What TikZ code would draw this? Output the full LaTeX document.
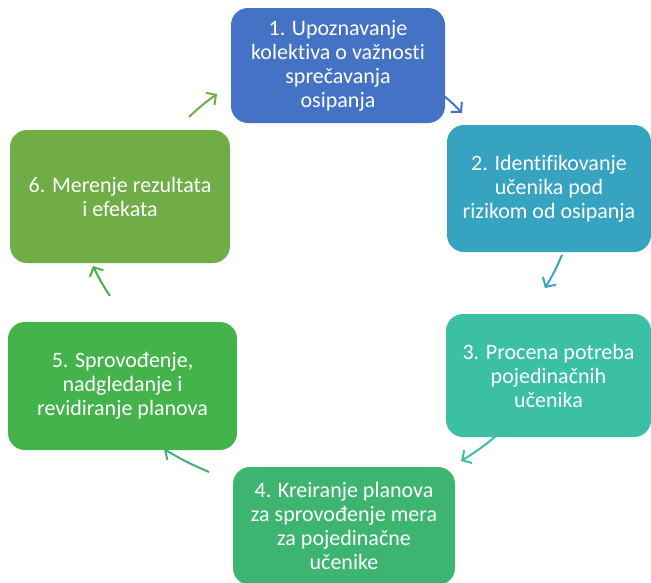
\documentclass[tikz,border=0pt]{standalone}
\usepackage{fontspec}
\setmainfont[Ligatures=NoCommon]{Carlito}
\usetikzlibrary{arrows.meta,backgrounds}
\definecolor{cA}{HTML}{4472C4}
\definecolor{cB}{HTML}{36A3C1}
\definecolor{cC}{HTML}{3BBFA5}
\definecolor{cD}{HTML}{3DB570}
\definecolor{cE}{HTML}{44B34B}
\definecolor{cF}{HTML}{70AD47}
\tikzset{
  stepbox/.style={rectangle, rounded corners=17pt, draw=none, text=white, align=center,
    font=\fontsize{22}{24}\selectfont, inner sep=0pt},
  cyc/.style={line width=2pt, -{Straight Barb[length=7pt,width=15pt,line width=2pt]}, bend left=4}
}
\begin{document}
\begin{tikzpicture}[x=1pt,y=-1pt]
\useasboundingbox (0,0) rectangle (651,582);
\node[stepbox, fill=cA, minimum width=214pt, minimum height=115pt] (b1) at (338,65.5)
  {1. Upoznavanje\\kolektiva o važnosti\\sprečavanja\\osipanja};
\node[stepbox, fill=cB, minimum width=204pt, minimum height=127pt] (b2) at (549,188.5)
  {2. Identifikovanje\\učenika pod\\rizikom od osipanja};
\node[stepbox, fill=cC, minimum width=205pt, minimum height=123pt] (b3) at (548.5,375.5)
  {3. Procena potreba\\pojedinačnih\\učenika};
\node[stepbox, fill=cD, minimum width=222pt, minimum height=118pt] (b4) at (344,526)
  {4. Kreiranje planova\\za sprovođenje mera\\za pojedinačne\\učenike};
\node[stepbox, fill=cE, minimum width=229pt, minimum height=128pt] (b5) at (122.5,386)
  {5. Sprovođenje,\\nadgledanje i\\revidiranje planova};
\node[stepbox, fill=cF, minimum width=220pt, minimum height=133pt] (b6) at (120,196.5)
  {6. Merenje rezultata\\i efekata};
\coordinate (a1s) at (444,96);
\coordinate (a1e) at (462,113);
\coordinate (a2s) at (562,255);
\coordinate (a2e) at (545,288);
\coordinate (a3s) at (496,436);
\coordinate (a3e) at (461,461);
\coordinate (a4s) at (209,472);
\coordinate (a4e) at (164,449);
\coordinate (a5s) at (110,296);
\coordinate (a5e) at (93,266);
\coordinate (a6s) at (189,117);
\coordinate (a6e) at (217,94);
\begin{scope}[on background layer]
\draw[cyc, draw=cA] (a1s) to (a1e);
\draw[cyc, draw=cB] (a2s) to (a2e);
\draw[cyc, draw=cC] (a3s) to (a3e);
\draw[cyc, draw=cD] (a4s) to (a4e);
\draw[cyc, draw=cE] (a5s) to (a5e);
\draw[cyc, draw=cF] (a6s) to (a6e);
\end{scope}
\end{tikzpicture}
\end{document}
